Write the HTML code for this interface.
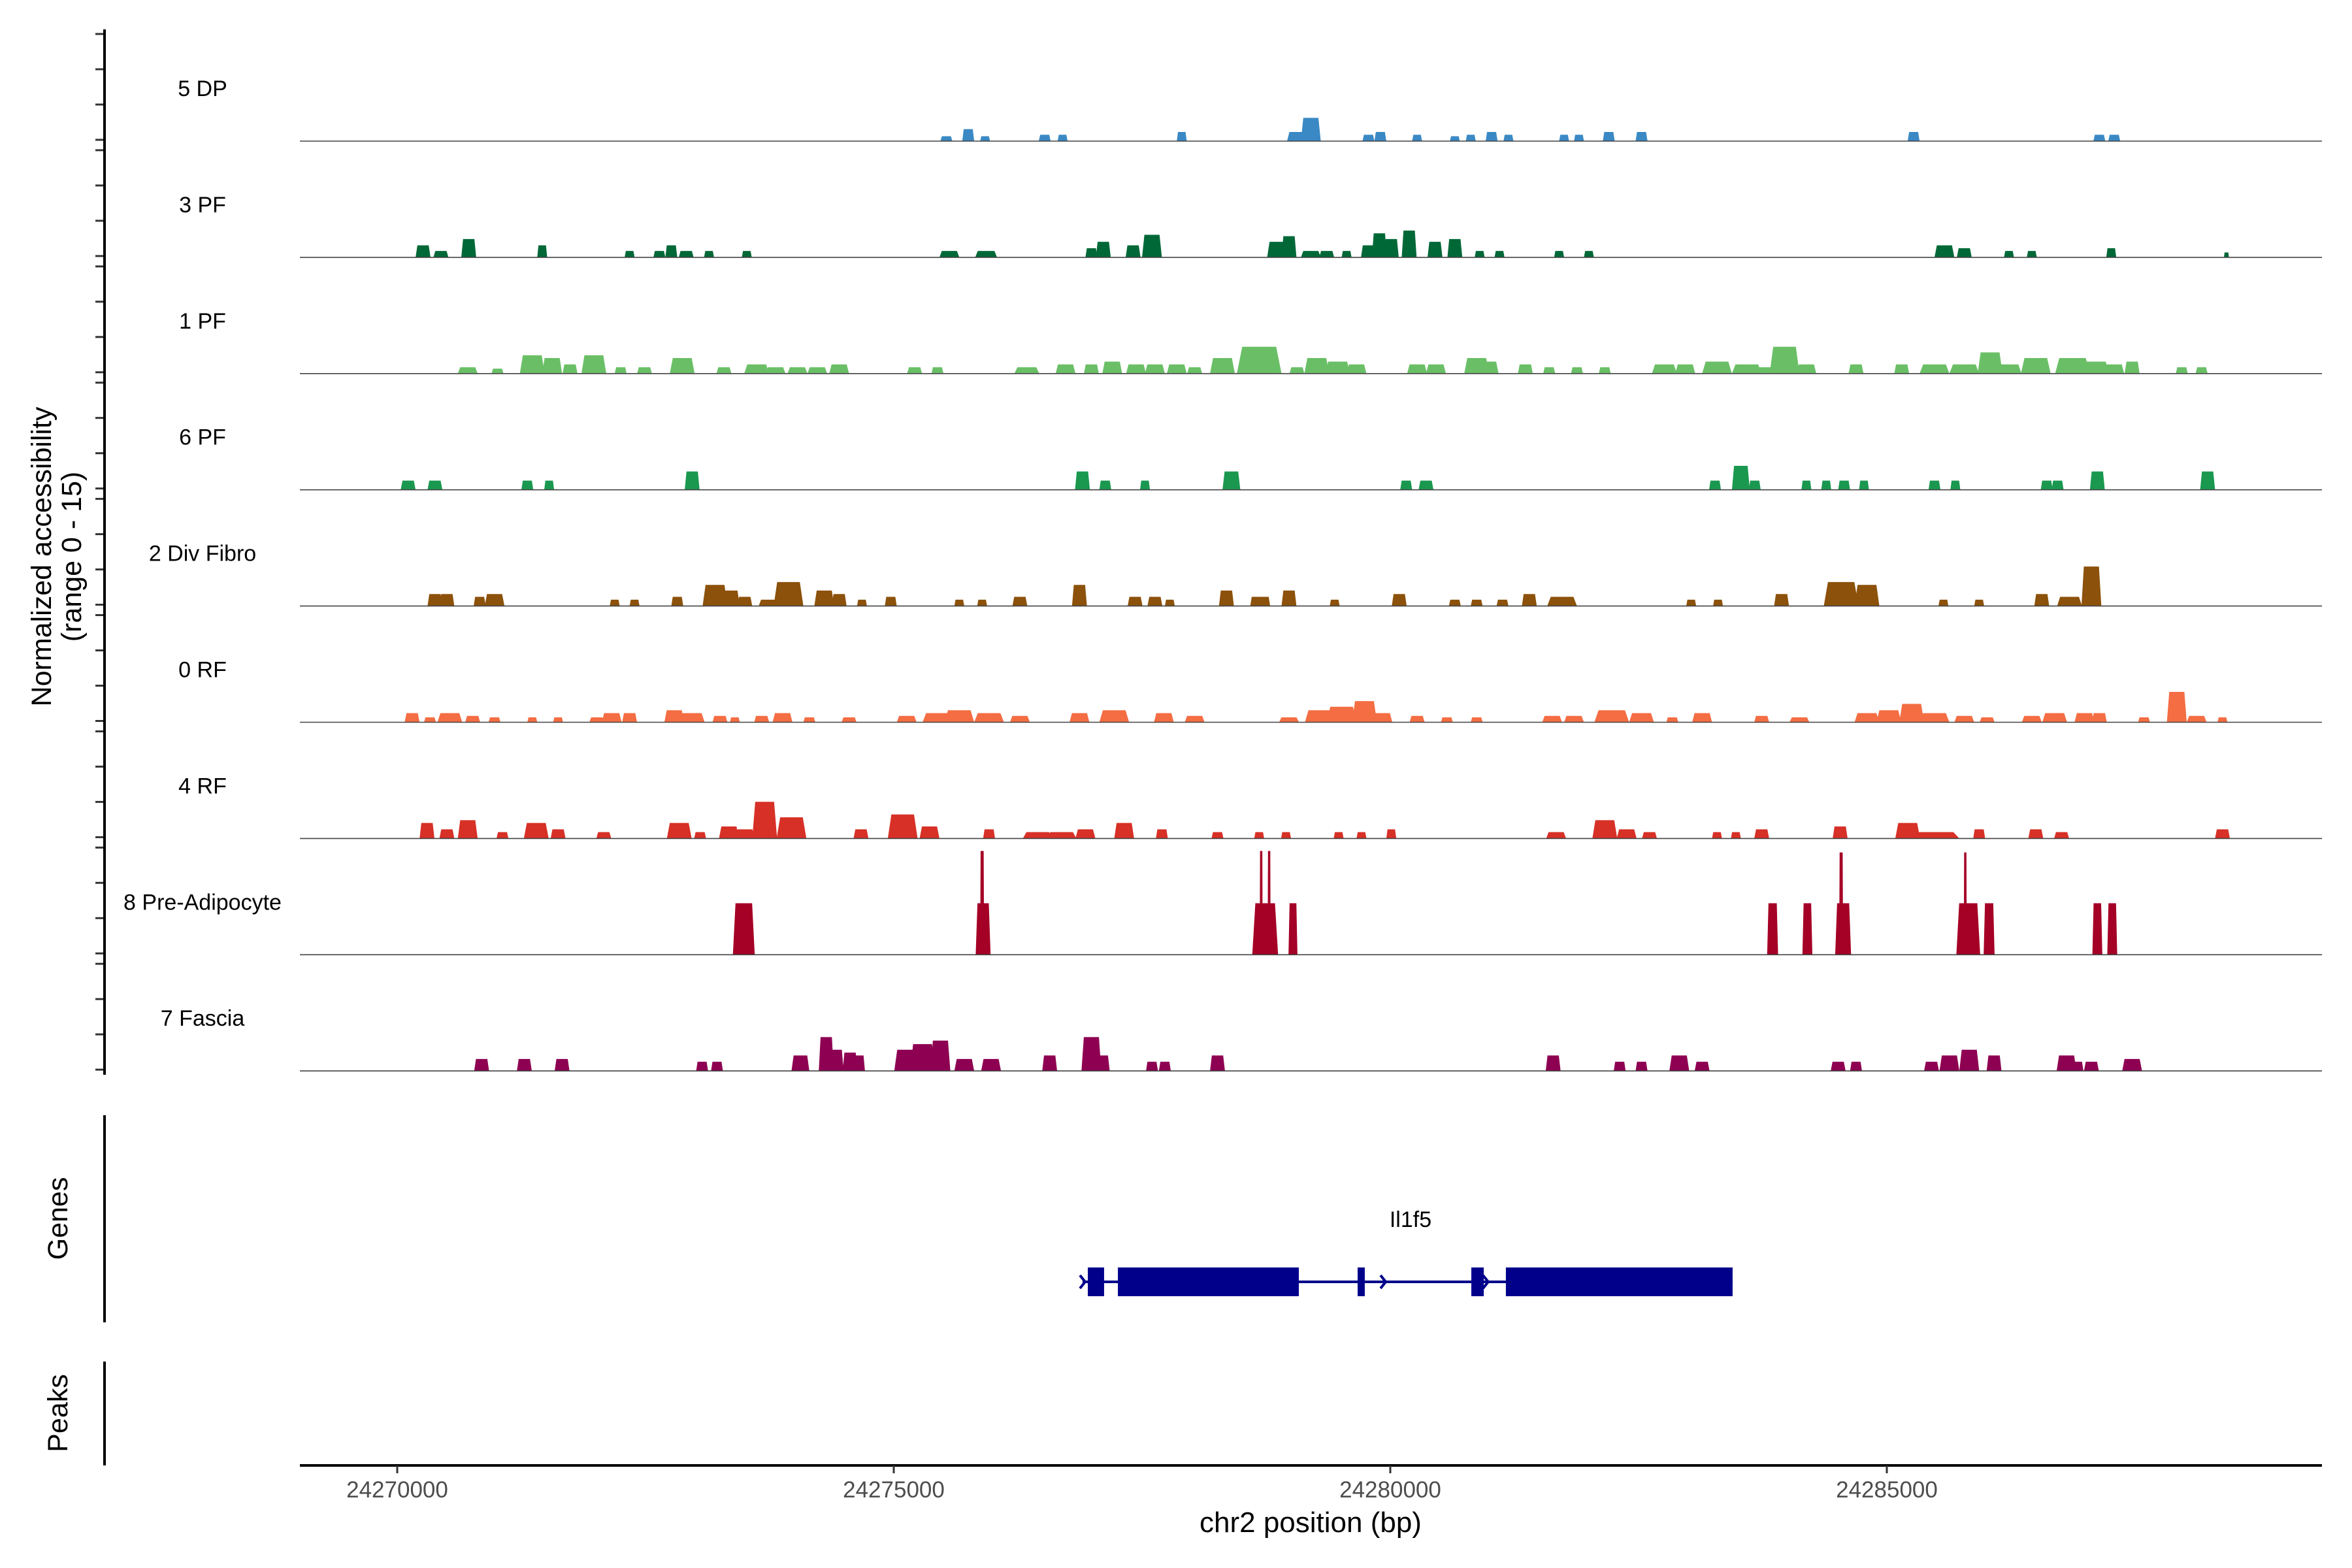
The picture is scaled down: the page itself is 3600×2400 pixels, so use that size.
<!DOCTYPE html>
<html><head><meta charset="utf-8">
<style>
html,body{margin:0;padding:0;background:#fff;}
svg{display:block;font-family:"Liberation Sans",Arial,sans-serif;}
</style></head>
<body>
<svg id="chart" width="3600" height="2400" viewBox="0 0 3600 2400" xmlns="http://www.w3.org/2000/svg">
<g id="tracks"></g>
<g id="axes"></g>
<g id="genes"></g>
</svg>
<script>
// Region start (bp); positions below are kb offsets from this
const regionStart = 24270000;
const trackNames = ["5 DP","3 PF","1 PF","6 PF","2 Div Fibro","0 RF","4 RF","8 Pre-Adipocyte","7 Fascia"];
const trackColors = ["#3a89c4","#006837","#6abf66","#1a9850","#8c510a","#f46d43","#d73027","#a50026","#8e0152"];
const xTicks = [24270000,24275000,24280000,24285000];
const yTicks = [0,5,10,15];

// peaks per track: [center kb offset, width kb, value]
const dpPeaks = [[5.53,.12,.7],[5.75,.12,1.7],[5.92,.1,.7],[6.52,.12,.9],[6.70,.1,.9],[7.90,.1,1.3],[9.06,.2,1.3],[9.20,.2,3.3],[9.78,.12,.9],[9.90,.12,1.3],[10.27,.1,.9],[10.65,.1,.7],[10.81,.1,.9],[11.02,.12,1.3],[11.19,.1,.9],[11.75,.1,.9],[11.90,.1,.9],[12.20,.12,1.3],[12.53,.12,1.3],[15.27,.12,1.3],[17.14,.12,.9],[17.29,.12,.9]];
const pf3Peaks = [[0.26,.15,1.7],[0.44,.15,.9],[0.72,.15,2.6],[1.46,.1,1.7],[2.34,.1,.9],[2.64,.12,.9],[2.76,.12,1.7],[2.91,.15,.9],[3.14,.1,.9],[3.52,.1,.9],[5.56,.2,.9],[5.93,.22,.9],[6.99,.12,1.3],[7.11,.15,2.2],[7.41,.15,1.7],[7.60,.2,3.2],[8.86,.2,2.2],[8.98,.15,3.0],[9.20,.2,.9],[9.36,.15,.9],[9.56,.1,.9],[9.78,.15,1.7],[9.89,.15,3.4],[10.01,.15,2.6],[10.19,.15,3.8],[10.45,.15,2.2],[10.65,.15,2.6],[10.90,.1,.9],[11.10,.1,.9],[11.70,.1,.9],[12.00,.1,.9],[15.58,.2,1.7],[15.78,.15,1.3],[16.23,.1,.9],[16.46,.1,.9],[17.26,.1,1.3],[18.42,.05,.7]];
const pf1Peaks = [[0.71,.2,.9],[1.01,.12,.7],[1.36,.25,2.6],[1.56,.2,2.2],[1.74,.15,1.3],[1.98,.25,2.6],[2.25,.12,.9],[2.49,.15,.9],[2.87,.25,2.2],[3.29,.15,.9],[3.62,.25,1.3],[3.81,.2,.9],[4.03,.2,.9],[4.23,.2,.9],[4.45,.2,1.3],[5.21,.15,.9],[5.44,.12,.9],[6.34,.25,.9],[6.73,.2,1.3],[6.99,.15,1.3],[7.20,.2,1.7],[7.44,.2,1.3],[7.63,.2,1.3],[7.85,.2,1.3],[8.03,.15,.9],[8.31,.25,2.2],[8.68,.45,3.8],[9.06,.15,.9],[9.26,.25,2.2],[9.47,.25,1.7],[9.66,.2,1.3],[10.27,.2,1.3],[10.46,.2,1.3],[10.87,.25,2.2],[10.99,.2,1.7],[11.36,.15,1.3],[11.60,.12,.9],[11.88,.12,.9],[12.16,.12,.9],[12.76,.25,1.3],[12.97,.2,1.3],[13.29,.3,1.7],[13.59,.3,1.3],[13.79,.2,.9],[13.97,.3,3.8],[14.19,.2,1.3],[14.69,.15,1.3],[15.15,.15,1.3],[15.48,.3,1.3],[15.78,.3,1.3],[16.04,.25,3.0],[16.23,.25,1.3],[16.50,.3,2.2],[16.87,.35,2.2],[17.09,.3,1.7],[17.29,.2,1.3],[17.47,.15,1.7],[17.97,.12,.9],[18.17,.12,.9]];
const pf6Peaks = [[0.11,.15,1.3],[0.38,.15,1.3],[1.31,.12,1.3],[1.53,.1,1.3],[2.97,.15,2.6],[6.90,.15,2.6],[7.13,.12,1.3],[7.53,.1,1.3],[8.40,.18,2.6],[10.16,.12,1.3],[10.36,.15,1.3],[13.27,.12,1.3],[13.53,.18,3.4],[13.67,.12,1.3],[14.19,.1,1.3],[14.39,.1,1.3],[14.57,.12,1.3],[14.77,.1,1.3],[15.48,.12,1.3],[15.69,.1,1.3],[16.61,.12,1.3],[16.72,.12,1.3],[17.12,.15,2.6],[18.23,.15,2.6]];
const divPeaks = [[0.38,.15,1.7],[0.50,.15,1.7],[0.83,.12,1.3],[0.98,.2,1.7],[2.19,.1,.9],[2.39,.1,.9],[2.82,.12,1.3],[3.20,.25,3.0],[3.35,.2,2.2],[3.50,.15,1.3],[3.74,.2,.9],[3.94,.3,3.4],[4.30,.2,2.2],[4.45,.15,1.7],[4.68,.1,.9],[4.97,.12,1.3],[5.66,.1,.9],[5.89,.1,.9],[6.27,.15,1.3],[6.87,.15,3.0],[7.43,.15,1.3],[7.63,.15,1.3],[7.78,.1,.9],[8.35,.15,2.2],[8.65,.12,1.3],[8.73,.12,1.3],[8.98,.15,2.2],[9.44,.1,.9],[10.09,.15,1.7],[10.65,.12,.9],[10.87,.12,.9],[11.13,.12,.9],[11.40,.15,1.7],[11.73,.3,1.3],[13.03,.1,.9],[13.30,.1,.9],[13.94,.15,1.7],[14.54,.35,3.4],[14.80,.25,3.0],[15.57,.1,.9],[15.93,.1,.9],[16.56,.15,1.7],[16.84,.25,1.3],[17.06,.2,5.6]];
const rf0Peaks = [[0.15,.15,1.3],[0.33,.12,.7],[0.53,.25,1.3],[0.76,.15,.9],[0.98,.12,.7],[1.36,.1,.7],[1.62,.1,.7],[2.01,.15,.7],[2.16,.2,1.3],[2.34,.15,1.3],[2.79,.2,1.7],[2.97,.25,1.3],[3.25,.15,.9],[3.40,.1,.7],[3.67,.15,.9],[3.88,.2,1.3],[4.15,.12,.7],[4.55,.15,.7],[5.13,.2,.9],[5.44,.3,1.3],[5.66,.3,1.7],[5.96,.3,1.3],[6.27,.2,.9],[6.87,.2,1.3],[7.22,.3,1.7],[7.72,.2,1.3],[8.03,.2,.9],[8.98,.2,.7],[9.29,.3,1.7],[9.51,.3,2.2],[9.74,.25,3.0],[9.92,.2,1.3],[10.27,.15,.9],[10.57,.12,.7],[10.87,.12,.7],[11.63,.2,.9],[11.85,.2,.9],[12.23,.35,1.7],[12.53,.25,1.3],[12.84,.12,.7],[13.14,.2,1.3],[13.74,.15,.9],[14.12,.2,.7],[14.80,.25,1.3],[15.02,.25,1.7],[15.25,.25,2.6],[15.48,.3,1.3],[15.78,.2,.9],[16.01,.15,.7],[16.46,.2,.9],[16.69,.25,1.3],[16.99,.2,1.3],[17.14,.15,1.3],[17.59,.12,.7],[17.92,.2,4.3],[18.12,.2,.9],[18.38,.1,.7]];
const rf4Peaks = [[0.30,.15,2.2],[0.50,.15,1.3],[0.71,.2,2.6],[1.06,.12,.9],[1.40,.25,2.2],[1.62,.15,1.3],[2.08,.15,.9],[2.84,.25,2.2],[3.05,.12,.9],[3.34,.2,1.7],[3.50,.2,1.3],[3.70,.25,5.2],[3.97,.3,3.0],[4.67,.15,1.3],[5.09,.3,3.4],[5.36,.2,1.7],[5.96,.12,1.3],[6.45,.3,.9],[6.69,.3,.9],[6.93,.2,1.3],[7.32,.2,2.2],[7.70,.12,1.3],[8.26,.12,.9],[8.68,.1,.9],[8.95,.1,.9],[9.48,.1,.9],[9.71,.1,.9],[10.01,.1,1.3],[11.67,.2,.9],[12.16,.25,2.6],[12.38,.2,1.3],[12.61,.15,.9],[13.29,.1,.9],[13.48,.1,.9],[13.74,.15,1.3],[14.53,.15,1.7],[15.21,.25,2.2],[15.48,.5,.9],[15.93,.12,1.3],[16.50,.15,1.3],[16.76,.15,.9],[18.38,.15,1.3]];
const preAdPeaks = [[3.49,.22,7.3],[5.90,.15,7.3],[5.89,.04,14.7],[8.74,.26,7.3],[8.70,.03,14.7],[8.78,.03,14.7],[9.02,.09,7.3],[13.85,.11,7.3],[14.20,.1,7.3],[14.56,.16,7.3],[14.54,.04,14.5],[15.82,.24,7.3],[15.79,.03,14.5],[16.03,.11,7.3],[17.12,.1,7.3],[17.27,.1,7.3]];
const fasciaPeaks = [[0.85,.15,1.7],[1.28,.15,1.7],[1.66,.15,1.7],[3.07,.12,1.3],[3.22,.12,1.3],[4.06,.18,2.2],[4.32,.15,4.8],[4.42,.15,3.0],[4.56,.15,2.6],[4.65,.12,2.2],[5.13,.25,3.0],[5.29,.25,3.8],[5.47,.2,4.3],[5.71,.2,1.7],[5.98,.2,1.7],[6.57,.15,2.2],[6.99,.2,4.8],[7.10,.15,2.2],[7.60,.12,1.3],[7.73,.12,1.3],[8.26,.15,2.2],[11.64,.15,2.2],[12.31,.12,1.3],[12.53,.12,1.3],[12.91,.2,2.2],[13.14,.15,1.3],[14.51,.15,1.3],[14.69,.12,1.3],[15.45,.15,1.3],[15.63,.2,2.2],[15.83,.2,3.0],[16.08,.15,2.2],[16.81,.2,2.2],[16.92,.12,1.3],[17.06,.15,1.3],[17.47,.2,1.7]];
const allPeaks = [dpPeaks,pf3Peaks,pf1Peaks,pf6Peaks,divPeaks,rf0Peaks,rf4Peaks,preAdPeaks,fasciaPeaks];

// gene model Il1f5: exons [start bp, end bp]
const geneName = "Il1f5";
const geneStart = 24276901, geneEnd = 24283447;
const exonStarts = [24276954,24277257,24279671,24280816,24281164];
const exonEnds   = [24277118,24279079,24279743,24280941,24283447];
const strandArrows = [24276901,24279928,24280960];

const NS = "http://www.w3.org/2000/svg";
const X0 = 459, X1 = 3554;
function xScale(bp){ return 608 + (bp - 24270000) * (1520/10000); }
const baseY0 = 216, trackStep = 177.9, pxPerUnit = 10.8;
function baseline(i){ return baseY0 + i*trackStep; }
function yScale(i, v){ return baseline(i) - v*pxPerUnit; }
function mk(tag, attrs, parent){ const e=document.createElementNS(NS,tag); for(const k in attrs) e.setAttribute(k,attrs[k]); parent.appendChild(e); return e; }

const tracksG = document.getElementById('tracks');
const axesG = document.getElementById('axes');
const genesG = document.getElementById('genes');

trackNames.forEach((name,i)=>{
  const g = mk('g',{},tracksG);
  
  
  allPeaks[i].forEach(p=>{
    const c = regionStart + p[0]*1000, w = p[1]*1000;
    const xa = xScale(c - w/2), xb = xScale(c + w/2);
    const s = (xb-xa)*0.12;
    const yb = baseline(i), yt = yScale(i, p[2]);
    const poly = mk('polygon',{points:`${xa},${yb} ${xa+s},${yt} ${xb-s},${yt} ${xb},${yb}`, fill:trackColors[i]}, g);
    
    
  });
  const bl = mk('line',{x1:X0,x2:X1,y1:baseline(i),y2:baseline(i),stroke:'#444','stroke-width':1.6},g);
  
  
  const lab = mk('text',{x:310,y:baseline(i)-78,'font-size':34,'text-anchor':'middle','dominant-baseline':'middle',fill:'#000'},g);
  lab.textContent = name;
  
  
  yTicks.forEach(t=>{
    const tk = mk('line',{x1:146,x2:159,y1:yScale(i,t)-2,y2:yScale(i,t)-2,stroke:'#333','stroke-width':3},axesG);
    
    
  });
});

// left axis
let ax = mk('line',{x1:160,x2:160,y1:45,y2:1645,stroke:'#000','stroke-width':4},axesG);


let yt = mk('text',{transform:'translate(78,852) rotate(-90)','font-size':43,'text-anchor':'middle',fill:'#000'},axesG);


yt.innerHTML = '<tspan x="0" dy="0">Normalized accessibility</tspan><tspan x="0" dy="46">(range 0 - 15)</tspan>';

// genes/peaks axes
ax = mk('line',{x1:160,x2:160,y1:1707,y2:2024,stroke:'#000','stroke-width':4},axesG);


ax = mk('line',{x1:160,x2:160,y1:2084,y2:2243,stroke:'#000','stroke-width':4},axesG);


let t1 = mk('text',{transform:'translate(103,1865) rotate(-90)','font-size':43,'text-anchor':'middle',fill:'#000'},axesG);
t1.textContent = 'Genes';


let t2 = mk('text',{transform:'translate(103,2163) rotate(-90)','font-size':43,'text-anchor':'middle',fill:'#000'},axesG);
t2.textContent = 'Peaks';



// x axis
ax = mk('line',{x1:X0,x2:X1,y1:2243,y2:2243,stroke:'#000','stroke-width':4},axesG);


xTicks.forEach(t=>{
  const tk = mk('line',{x1:xScale(t),x2:xScale(t),y1:2243,y2:2255,stroke:'#333','stroke-width':3},axesG);
  
  
  const tl = mk('text',{x:xScale(t),y:2292,'font-size':35,'text-anchor':'middle',fill:'#4d4d4d'},axesG);
  tl.textContent = String(t);
  
  
});
let xt = mk('text',{x:2006,y:2345,'font-size':44,'text-anchor':'middle',fill:'#000'},axesG);
xt.textContent = 'chr2 position (bp)';



// gene model
const gy = 1962;
let gl = mk('line',{x1:xScale(geneStart),x2:xScale(geneEnd),y1:gy,y2:gy,stroke:'#00008b','stroke-width':4},genesG);


exonStarts.forEach((s,k)=>{
  const r = mk('rect',{x:xScale(s),y:1940,width:xScale(exonEnds[k])-xScale(s),height:44,fill:'#00008b'},genesG);
  
  
});
strandArrows.forEach(a=>{
  const x = xScale(a);
  const p = mk('polyline',{points:`${x-4},${gy-10} ${x+4},${gy} ${x-4},${gy+10}`,fill:'none',stroke:'#00008b','stroke-width':4},genesG);
  
  
});
let gn = mk('text',{x:2159,y:1878,'font-size':34,'text-anchor':'middle',fill:'#000'},genesG);
gn.textContent = geneName;


</script>
</body></html>
